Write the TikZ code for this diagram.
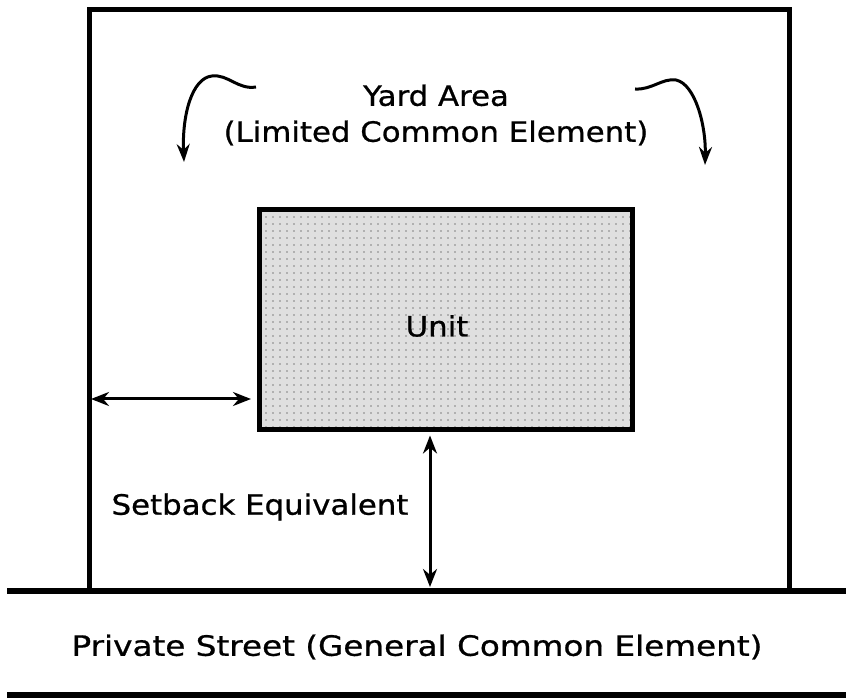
\documentclass[tikz,border=0pt]{standalone}
\usepackage{fontspec}
\setmainfont{DejaVu Sans}[FakeStretch=1.1, FakeBold=0.8]
\usetikzlibrary{positioning,arrows.meta,patterns.meta}
\begin{document}
\begin{tikzpicture}[x=1pt, y=-1pt,
		wall/.style={line width=5pt, line cap=rect},
		streetline/.style={line width=6pt},
		unitbox/.style={rectangle, draw, line width=5pt, inner sep=0pt, minimum width=373pt, minimum height=219pt,
			preaction={fill=gray!25}, pattern={Dots[distance=7pt, radius=0.9pt]}, pattern color=gray},
		textlabel/.style={font=\fontsize{28}{36}\selectfont, align=center, inner sep=0pt},
		dimarrow/.style={{Stealth[length=18pt, width=14pt]}-{Stealth[length=18pt, width=14pt]}, line width=3pt},
		turnarrow/.style={-{Stealth[length=18pt, width=13pt]}, line width=3pt}
	]
	\useasboundingbox (0,0) rectangle (846,700);
	% street and yard
	\coordinate (streetW) at (7,591);
	\coordinate (streetE) at (846,591);
	\draw[streetline] (streetW) -- (streetE);
	\draw[streetline] (7,695) -- (846,695);
	\coordinate (yardSW) at (89,591);
	\coordinate (yardNE) at (789,10);
	\draw[wall] (yardSW) |- (yardNE) -- (yardNE |- yardSW);
	% unit
	\node[unitbox] (unit) at (446,319.5) {};
	\node[textlabel] (unitname) at (437,326) {Unit};
	% texts
	\node[textlabel] (yardname) at (436,115) {Yard Area\\(Limited Common Element)};
	\node[textlabel] (setback) at (260,507) {Setback Equivalent};
	\node[textlabel, xscale=1.06] (streetname) at (417,647) {Private Street (General Common Element)};
	% setback arrows
	\coordinate (yardW) at (91,399);
	\draw[dimarrow, shorten >=6pt] (yardW) -- (unit.west |- yardW);
	\draw[dimarrow, shorten <=4pt, shorten >=4pt] ([xshift=-16pt]unit.south) -- ([xshift=-16pt]unit.south |- streetW);
	% turning arrows
	\coordinate (leftstart) at (256,87);
	\coordinate (lefttip) at (184,162);
	\coordinate (rightstart) at (635,89);
	\coordinate (righttip) at (705,165);
	\draw[turnarrow] (leftstart) .. controls (238,90) and (228,74) .. (212,76) .. controls (192,78) and (182,115) .. (lefttip);
	\draw[turnarrow] (rightstart) .. controls (652,90) and (662,78) .. (676,80) .. controls (695,84) and (706,125) .. (righttip);
\end{tikzpicture}
\end{document}
